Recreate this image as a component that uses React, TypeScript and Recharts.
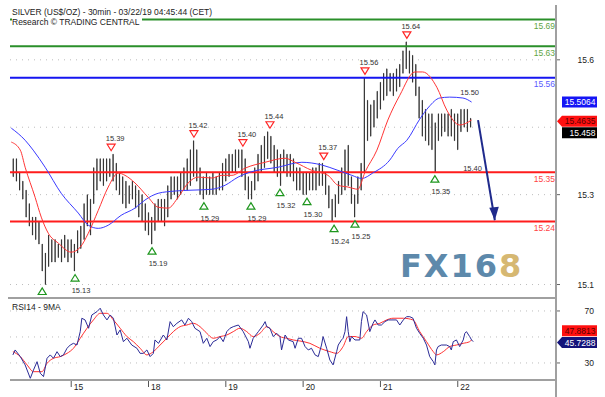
import React from 'react';
import { ComposedChart, Bar, Line, Scatter, XAxis, YAxis, CartesianGrid, ReferenceLine } from 'recharts';

const FONT = '"Liberation Sans", Arial, sans-serif';

// hourly bars; t = hours from the start of the 15th (trading time)
const FIRST_HOUR = -18;
const barHighs = [
  15.38, 15.38, 15.35, 15.33, 15.31, 15.28, 15.25, 15.25, 15.24, 15.19,
  15.17, 15.21, 15.20, 15.20, 15.19, 15.20, 15.21, 15.20, 15.20, 15.19,
  15.22, 15.23, 15.28, 15.30, 15.29, 15.36, 15.38, 15.38, 15.38, 15.38,
  15.38, 15.39, 15.37, 15.35, 15.34, 15.33, 15.32, 15.33, 15.32, 15.31,
  15.30, 15.28, 15.26, 15.25, 15.28, 15.29, 15.29, 15.29, 15.32, 15.34,
  15.34, 15.34, 15.35, 15.36, 15.38, 15.40, 15.42, 15.40, 15.36, 15.34,
  15.35, 15.34, 15.35, 15.34, 15.35, 15.37, 15.38, 15.39, 15.39, 15.40,
  15.40, 15.40, 15.38, 15.34, 15.33, 15.36, 15.39, 15.41, 15.43, 15.44,
  15.43, 15.41, 15.40, 15.39, 15.40, 15.39, 15.39, 15.38, 15.36, 15.36,
  15.35, 15.35, 15.35, 15.36, 15.36, 15.37, 15.37, 15.35, 15.32, 15.29,
  15.30, 15.33, 15.36, 15.40, 15.41, 15.34, 15.30, 15.34, 15.37, 15.56,
  15.51, 15.50, 15.51, 15.53, 15.55, 15.57, 15.58, 15.57, 15.57, 15.58,
  15.59, 15.62, 15.64, 15.62, 15.61, 15.59, 15.54, 15.51, 15.49, 15.48,
  15.48, 15.46, 15.48, 15.48, 15.48, 15.48, 15.49, 15.48, 15.48, 15.49,
  15.49, 15.49, 15.47,
];
const barLows = [
  15.34, 15.33, 15.31, 15.29, 15.25, 15.23, 15.21, 15.20, 15.19, 15.13,
  15.10, 15.14, 15.15, 15.15, 15.16, 15.15, 15.16, 15.15, 15.16, 15.13,
  15.17, 15.18, 15.20, 15.23, 15.21, 15.28, 15.31, 15.33, 15.32, 15.33,
  15.34, 15.33, 15.31, 15.30, 15.28, 15.27, 15.28, 15.29, 15.27, 15.25,
  15.24, 15.22, 15.21, 15.19, 15.22, 15.24, 15.24, 15.23, 15.25, 15.29,
  15.30, 15.29, 15.30, 15.31, 15.31, 15.32, 15.34, 15.33, 15.30, 15.29,
  15.30, 15.30, 15.30, 15.30, 15.31, 15.31, 15.33, 15.34, 15.35, 15.35,
  15.36, 15.34, 15.31, 15.29, 15.29, 15.31, 15.33, 15.35, 15.36, 15.38,
  15.37, 15.35, 15.34, 15.32, 15.35, 15.34, 15.34, 15.33, 15.31, 15.31,
  15.30, 15.30, 15.31, 15.31, 15.31, 15.32, 15.32, 15.30, 15.27, 15.24,
  15.25, 15.28, 15.30, 15.31, 15.32, 15.28, 15.25, 15.28, 15.31, 15.35,
  15.42, 15.43, 15.45, 15.47, 15.49, 15.51, 15.52, 15.53, 15.52, 15.53,
  15.54, 15.57, 15.58, 15.57, 15.55, 15.52, 15.47, 15.43, 15.42, 15.41,
  15.40, 15.35, 15.42, 15.43, 15.44, 15.43, 15.43, 15.42, 15.40, 15.44,
  15.45, 15.44, 15.45,
];

// moving averages on price [t, value]
const fastMa: [number, number][] = [
  [-18.6, 15.417], [-15.8, 15.399], [-14.3, 15.361], [-11.2, 15.294], [-9.3, 15.25],
  [-7.1, 15.214], [-4.0, 15.192], [0, 15.172], [2.8, 15.183], [5.3, 15.214],
  [8.4, 15.265], [11.5, 15.317], [14.6, 15.348], [16.7, 15.343], [19.8, 15.326],
  [23.9, 15.294], [27.0, 15.272], [30.1, 15.27], [33.2, 15.294], [36.3, 15.326],
  [39.4, 15.339], [43.7, 15.337], [46.8, 15.343], [49.9, 15.343], [54.0, 15.359],
  [60.2, 15.372], [66.4, 15.381], [69.5, 15.372], [74.7, 15.354], [79.7, 15.343],
  [82.8, 15.321], [85.9, 15.317], [89.0, 15.312], [91.2, 15.35], [94.9, 15.399],
  [98.3, 15.466], [102.0, 15.521], [106.7, 15.573], [109.1, 15.573], [113.5, 15.539],
  [116.6, 15.488], [120.6, 15.455], [124.3, 15.466],
];
const slowMa: [number, number][] = [
  [-18.6, 15.448], [-14.3, 15.421], [-11.8, 15.399], [-8.1, 15.361], [-3.1, 15.303],
  [2.2, 15.259], [5.3, 15.232], [8.4, 15.225], [11.5, 15.232], [15.5, 15.254],
  [19.8, 15.27], [22.9, 15.288], [27.0, 15.303], [32.2, 15.308], [37.5, 15.31],
  [43.7, 15.312], [47.8, 15.321], [51.8, 15.339], [55.5, 15.35], [64.2, 15.361],
  [71.6, 15.372], [77.8, 15.366], [82.8, 15.354], [87.1, 15.343], [90.2, 15.336],
  [93.6, 15.348], [98.9, 15.377], [101.4, 15.403], [104.2, 15.421], [108.2, 15.468],
  [111.0, 15.495], [114.4, 15.515], [117.5, 15.517], [121.6, 15.515], [124.3, 15.506],
];

// pivots [t, price]
const highPivots: [number, number][] = [
  [12.4, 15.39], [38.1, 15.42], [53.3, 15.40], [61.7, 15.44], [78.4, 15.37], [91.2, 15.56], [104.2, 15.64],
];
const lowPivots: [number, number][] = [
  [1.2, 15.13], [25.1, 15.19], [41.2, 15.29], [55.8, 15.29], [64.8, 15.32],
  [73.2, 15.30], [81.6, 15.24], [88.1, 15.25], [112.9, 15.35],
];
// low whose label falls below the price panel
const unlabeledLows: [number, number][] = [[-9.0, 15.10]];
const noteTexts: [number, number, string][] = [[123.7, 15.528, '15.50'], [124.6, 15.36, '15.40']];

const levels = [15.69, 15.63, 15.56, 15.35, 15.24];
const levelKinds = ['green', 'green', 'blue', 'red', 'red'];
const forecastArrow: [number, number][] = [[126.3, 15.466], [131.5, 15.243]];

const priceTicks = [15.1, 15.3, 15.6];
const priceGrid = [15.1, 15.3, 15.45, 15.6];
const lastPrice = 15.458;
const fastMaLast = 15.4635;
const slowMaLast = 15.5064;

// RSI14 and its 9MA [t, value]
const rsiLine: [number, number][] = [
  [-18.1, 36.2], [-17.4, 40.0], [-15.8, 34.9], [-14.3, 28.5], [-12.7, 18.2], [-11.7, 24.6],
  [-10.6, 31.0], [-9.6, 22.1], [-8.6, 19.5], [-7.5, 33.6], [-6.5, 36.2], [-5.5, 33.6],
  [-4.4, 38.7], [-3.4, 34.9], [-2.4, 36.2], [-1.3, 41.3], [-0.3, 43.8], [0.7, 45.1],
  [1.8, 43.8], [2.8, 54.1], [3.3, 64.4], [4.3, 63.1], [5.4, 56.7], [6.4, 66.9],
  [8.0, 69.5], [9.0, 72.1], [10.0, 66.9], [11.1, 63.1], [12.1, 66.9], [13.1, 64.4],
  [14.2, 51.5], [15.2, 55.4], [16.2, 46.4], [17.3, 49.0], [18.8, 43.8], [20.4, 41.3],
  [21.4, 37.4], [22.4, 37.4], [23.5, 40.0], [24.5, 34.9], [25.5, 37.4], [26.0, 47.7],
  [27.1, 45.1], [28.6, 51.5], [29.7, 47.7], [30.7, 61.8], [31.7, 57.9], [32.8, 60.5],
  [34.3, 63.1], [35.3, 59.2], [36.4, 64.4], [37.4, 61.8], [38.4, 56.7], [40.0, 54.1],
  [41.0, 45.1], [42.1, 49.0], [43.1, 42.6], [44.1, 46.4], [45.2, 47.7], [46.2, 50.3],
  [47.2, 46.4], [48.3, 54.1], [49.3, 56.7], [50.3, 57.9], [51.9, 59.2], [53.4, 54.1],
  [55.0, 46.4], [55.5, 41.3], [56.5, 49.0], [58.1, 54.1], [59.6, 59.2], [60.2, 61.8],
  [60.7, 57.9], [61.7, 56.7], [62.7, 50.3], [63.8, 52.8], [64.8, 50.3], [65.3, 40.0],
  [66.4, 51.5], [67.4, 47.7], [68.9, 46.4], [69.5, 41.3], [70.5, 49.0], [71.5, 49.0],
  [72.6, 42.6], [73.6, 40.0], [74.6, 41.3], [75.7, 36.2], [76.7, 34.9], [77.7, 43.8],
  [78.2, 50.3], [79.3, 41.3], [80.3, 32.3], [81.3, 28.5], [82.4, 38.7], [82.9, 43.8],
  [83.9, 47.7], [84.4, 49.0], [85.0, 54.1], [85.5, 65.6], [86.0, 54.1], [86.5, 46.4],
  [87.0, 50.3], [88.1, 47.7], [89.6, 47.7], [90.1, 61.8], [90.6, 69.5], [91.7, 66.9],
  [92.7, 54.1], [93.7, 60.5], [94.3, 63.1], [95.3, 59.2], [96.3, 59.2], [97.4, 61.8],
  [98.4, 63.1], [99.9, 63.1], [101.0, 63.1], [102.0, 59.2], [103.1, 63.1], [104.1, 65.6],
  [105.1, 65.6], [106.1, 64.4], [107.2, 56.7], [108.2, 52.8], [109.3, 49.0], [110.3, 43.8],
  [111.3, 34.9], [112.4, 31.0], [112.9, 28.5], [113.4, 40.0], [113.9, 42.6], [114.9, 43.8],
  [116.5, 43.8], [117.5, 42.6], [118.0, 40.0], [118.6, 46.4], [119.6, 47.7], [120.6, 42.6],
  [121.7, 47.7], [122.2, 52.8], [122.7, 54.1], [123.7, 50.3], [124.3, 47.7], [124.8, 46.4],
];
const rsiMa: [number, number][] = [
  [-18.1, 38.7], [-15.8, 34.9], [-13.7, 28.5], [-11.7, 23.3], [-9.1, 23.3], [-7.5, 29.7],
  [-5.5, 33.6], [-3.4, 34.9], [-1.3, 37.4], [0.7, 41.3], [2.8, 49.0], [4.9, 56.7],
  [6.9, 63.1], [9.0, 68.2], [11.1, 68.2], [13.1, 63.1], [15.2, 56.7], [17.3, 50.3],
  [19.3, 46.4], [21.4, 41.3], [23.5, 36.2], [25.5, 38.7], [27.6, 43.8], [29.7, 49.0],
  [31.7, 54.1], [33.8, 57.9], [35.9, 59.2], [37.9, 60.5], [40.0, 57.9], [42.1, 52.8],
  [44.1, 49.0], [46.2, 50.3], [48.3, 51.5], [50.3, 54.1], [52.4, 56.7], [54.5, 54.1],
  [56.5, 50.3], [58.6, 52.8], [60.7, 57.9], [62.7, 54.1], [64.8, 50.3], [66.9, 49.0],
  [68.9, 47.7], [71.0, 46.9], [74.1, 45.1], [77.2, 41.3], [80.3, 38.7], [82.4, 37.4],
  [84.4, 42.6], [86.0, 50.3], [88.1, 50.3], [90.1, 49.0], [91.7, 54.1], [93.7, 59.2],
  [95.8, 60.5], [97.9, 63.1], [99.9, 64.4], [103.1, 64.4], [106.1, 63.1], [108.2, 54.1],
  [110.3, 46.4], [112.4, 38.7], [113.4, 36.2], [115.5, 38.7], [117.5, 42.6], [119.6, 43.8],
  [121.7, 45.1], [123.7, 46.4], [124.3, 47.7],
];
const rsiTicks = [30, 70];
const rsiGrid = [30, 50, 70];
const rsiLast = 45.7288;
const rsiMaLast = 47.8813;

const dayTicks = [0, 24, 48, 72, 96, 120];
const dayLabels = ['15', '18', '19', '20', '21', '22'];

const X_DOMAIN = [-19, 150.5];

const COLORS: Record<string, { line: string; text: string }> = {
  green: { line: '#2a8f2a', text: '#5fa53f' },
  blue: { line: '#1515f0', text: '#5a5aff' },
  red: { line: '#ff1c1c', text: '#ff4545' },
};

const priceBars = barHighs.map((h, i) => ({ t: FIRST_HOUR + i, range: [barLows[i], h] }));
const toRows = (pts: [number, number][]) => pts.map(([t, v]) => ({ t, v }));
const pivotRows = [
  ...highPivots.map(([t, p]) => ({ t, price: p, kind: 'hi', label: p.toFixed(2) })),
  ...lowPivots.map(([t, p]) => ({ t, price: p, kind: 'lo', label: p.toFixed(2) })),
  ...unlabeledLows.map(([t, p]) => ({ t, price: p, kind: 'lo', label: '' })),
  ...noteTexts.map(([t, p, s]) => ({ t, price: p, kind: 'note', label: s })),
];

const PivotShape = (props: any) => {
  const { cx, cy, payload } = props;
  if (payload.kind === 'hi') {
    const ty = cy - 7;
    return (
      <g>
        <polygon points={`${cx - 4},${ty - 3} ${cx + 4},${ty - 3} ${cx},${ty + 3.5}`} fill="#fff" stroke="#ff2424" strokeWidth={1.2} />
        <text x={cx + 4} y={cy - 13} textAnchor="middle" fontSize={7.5} fill="#333" fontFamily={FONT}>{payload.label}</text>
      </g>
    );
  }
  if (payload.kind === 'lo') {
    const ty = cy + 7;
    return (
      <g>
        <polygon points={`${cx - 4},${ty + 3} ${cx + 4},${ty + 3} ${cx},${ty - 3.5}`} fill="#fff" stroke="#1e961e" strokeWidth={1.2} />
        {payload.label && (
          <text x={cx + 6} y={cy + 22} textAnchor="middle" fontSize={7.5} fill="#333" fontFamily={FONT}>{payload.label}</text>
        )}
      </g>
    );
  }
  return <text x={cx} y={cy + 3} textAnchor="middle" fontSize={7.5} fill="#333" fontFamily={FONT}>{payload.label}</text>;
};

const ArrowHead = (props: any) => {
  const { cx, cy, index } = props;
  if (index !== forecastArrow.length - 1) return <g key={index} />;
  return <polygon key={index} points={`${cx},${cy} ${cx - 5.5},${cy - 12.5} ${cx + 4},${cy - 13.5}`} fill="#1f2a8c" />;
};

const levelLabel = (value: number, color: string) => (props: any) => {
  const vb = props.viewBox || {};
  return (
    <text x={vb.x + vb.width - 1} y={vb.y + 9.5} textAnchor="end" fontSize={8.5} fill={color} fontFamily={FONT}>
      {value.toFixed(2)}
    </text>
  );
};

const tagLabel = (text: string, bg: string, fg: string, dy: number, pointer: boolean) => (props: any) => {
  const vb = props.viewBox || {};
  const x = vb.x + vb.width;
  const y = vb.y + dy;
  const h = 11;
  const left = x + 6;
  const right = x + 41;
  const d = pointer
    ? `M${x + 1},${y} L${left},${y - h / 2} L${right},${y - h / 2} L${right},${y + h / 2} L${left},${y + h / 2} Z`
    : `M${left},${y - h / 2} L${right},${y - h / 2} L${right},${y + h / 2} L${left},${y + h / 2} Z`;
  return (
    <g>
      <path d={d} fill={bg} />
      <text x={right - 1.5} y={y + 3.2} textAnchor="end" fontSize={8.5} fill={fg} fontFamily={FONT}>{text}</text>
    </g>
  );
};

const RightTick = (props: any) => {
  const { x, y, payload } = props;
  return (
    <g>
      <line x1={x} y1={y} x2={x + 4} y2={y} stroke="#666" />
      <text x={x + 38} y={y + 3} textAnchor="end" fontSize={8.5} fill="#222" fontFamily={FONT}>{payload.value}</text>
    </g>
  );
};

const DayTick = (props: any) => {
  const { x, y, payload } = props;
  const label = dayLabels[dayTicks.indexOf(payload.value)];
  return (
    <g>
      <line x1={x} y1={y + 1} x2={x} y2={y + 7} stroke="#555" />
      <text x={x + 2.5} y={y + 10} fontSize={8.5} fill="#222" fontFamily={FONT}>{label}</text>
    </g>
  );
};

export default function App() {
  return (
    <div style={{ position: 'absolute', left: 0, top: 0, width: 605, height: 397, background: '#fff', overflow: 'hidden', fontFamily: FONT }}>
      <div style={{ position: 'absolute', left: 0, top: 0 }}>
        <ComposedChart width={605} height={300} data={priceBars} margin={{ top: 5, right: 0, bottom: 2, left: 10 }}>
          <CartesianGrid horizontalValues={priceGrid} vertical={false} stroke="#bdbdbd" strokeDasharray="1 5" />
          <XAxis dataKey="t" type="number" domain={X_DOMAIN} allowDataOverflow hide />
          <YAxis
            orientation="right"
            width={49}
            domain={[15.07, 15.722]}
            allowDataOverflow
            ticks={priceTicks}
            tick={<RightTick />}
            tickSize={0}
            tickMargin={0}
            axisLine={false}
            tickLine={false}
          />
          {levels.map((v, i) => (
            <ReferenceLine
              key={v}
              y={v}
              stroke={COLORS[levelKinds[i]].line}
              strokeWidth={2}
              label={levelLabel(v, COLORS[levelKinds[i]].text)}
            />
          ))}
          <Bar dataKey="range" barSize={2.4} fill="#000" stroke="#111" strokeWidth={0.6} isAnimationActive={false} />
          <Line data={toRows(slowMa)} dataKey="v" type="monotone" stroke="#3a3aff" strokeWidth={1} dot={false} isAnimationActive={false} />
          <Line data={toRows(fastMa)} dataKey="v" type="monotone" stroke="#ff3535" strokeWidth={1} dot={false} isAnimationActive={false} />
          <Line
            data={forecastArrow.map(([t, v]) => ({ t, v }))}
            dataKey="v"
            type="linear"
            stroke="#1f2a8c"
            strokeWidth={2}
            dot={<ArrowHead />}
            isAnimationActive={false}
          />
          <Scatter data={pivotRows} dataKey="price" shape={<PivotShape />} isAnimationActive={false} />
          <ReferenceLine y={slowMaLast} stroke="none" label={tagLabel(String(slowMaLast), '#1515f5', '#fff', 0, false)} />
          <ReferenceLine y={fastMaLast} stroke="none" label={tagLabel(String(fastMaLast), '#ff1010', '#5a0000', 0, true)} />
          <ReferenceLine y={lastPrice} stroke="none" label={tagLabel(String(lastPrice), '#000', '#fff', 9, false)} />
        </ComposedChart>
      </div>

      <div style={{ position: 'absolute', left: 0, top: 298 }}>
        <ComposedChart width={605} height={99} margin={{ top: 1, right: 0, bottom: 0, left: 10 }}>
          <CartesianGrid horizontalValues={rsiGrid} vertical={false} stroke="#bdbdbd" strokeDasharray="1 5" />
          <XAxis
            dataKey="t"
            type="number"
            domain={X_DOMAIN}
            allowDataOverflow
            ticks={dayTicks}
            height={17}
            tick={<DayTick />}
            tickSize={0}
            tickMargin={0}
            tickLine={false}
            axisLine={{ stroke: '#a0a0a0', strokeWidth: 2 }}
          />
          <YAxis
            orientation="right"
            width={49}
            domain={[16.9, 79.2]}
            allowDataOverflow
            ticks={rsiTicks}
            tick={<RightTick />}
            tickSize={0}
            tickMargin={0}
            axisLine={false}
            tickLine={false}
          />
          <Line data={toRows(rsiMa)} dataKey="v" type="monotone" stroke="#ff3030" strokeWidth={1} dot={false} isAnimationActive={false} />
          <Line data={toRows(rsiLine)} dataKey="v" type="linear" stroke="#2b2b96" strokeWidth={1} dot={false} isAnimationActive={false} />
          <ReferenceLine y={rsiMaLast} stroke="none" label={tagLabel(String(rsiMaLast), '#ff1010', '#5a0000', -9, false)} />
          <ReferenceLine y={rsiLast} stroke="none" label={tagLabel(String(rsiLast), '#13137a', '#fff', 0, true)} />
        </ComposedChart>
      </div>

      {/* frame lines */}
      <div style={{ position: 'absolute', left: 8, top: 297, width: 548, height: 2, background: '#a0a0a0' }} />
      <div style={{ position: 'absolute', left: 555, top: 5, width: 2, height: 392, background: '#a0a0a0' }} />

      <div style={{ position: 'absolute', left: 12, top: 7, fontSize: 8.5, lineHeight: '10px', color: '#222' }}>
        <div>SILVER (US$/OZ) - 30min - 03/22/19 04:45:44 (CET)</div>
        <div style={{ display: 'inline-block', background: '#fff', paddingRight: 2 }}>Research © TRADING CENTRAL</div>
      </div>

      <div style={{ position: 'absolute', left: 12, top: 302, fontSize: 8.5, lineHeight: '10px', color: '#222' }}>RSI14 - 9MA</div>

      <div
        style={{
          position: 'absolute',
          left: 400,
          top: 250,
          fontFamily: '"DejaVu Sans", sans-serif',
          fontWeight: 'bold',
          fontSize: 32,
          lineHeight: '32px',
          letterSpacing: 2,
          whiteSpace: 'nowrap',
          pointerEvents: 'none',
        }}
      >
        <span style={{ color: '#5d89ab' }}>FX16</span>
        <span style={{ color: '#d6b872' }}>8</span>
      </div>
    </div>
  );
}
